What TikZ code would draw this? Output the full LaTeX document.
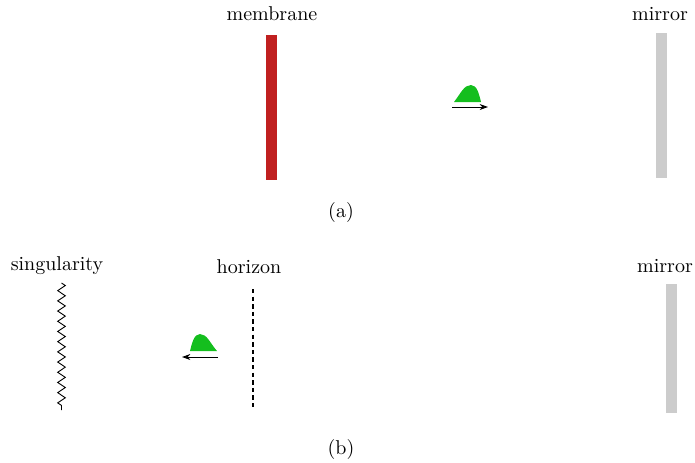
\documentclass[tikz,border=0pt]{standalone}
\usetikzlibrary{arrows.meta,decorations.pathmorphing}
\definecolor{memred}{RGB}{192,32,32}
\definecolor{mirgray}{RGB}{204,204,204}
\definecolor{pulsegreen}{RGB}{20,190,30}
\tikzset{
  lbl/.style={inner sep=0pt,font=\normalsize},
  pulse/.style={fill=pulsegreen,draw=none},
  movearrow/.style={-{Stealth[length=4.2pt,width=3pt]},line width=0.5pt}
}
\begin{document}
\begin{tikzpicture}[x=0.5pt,y=-0.5pt]
\useasboundingbox (0,0) rectangle (695,462);
% (a)
\node[lbl] (memlbl) at (272,14) {membrane};
\fill[memred] (266,35) rectangle (277,180);
\node[lbl] (mirlbla) at (660,14) {mirror};
\fill[mirgray] (656,33) rectangle (667,178);
\fill[pulse] (454,102) .. controls (461,93) and (464,85) .. (471,85)
  .. controls (477,85) and (479,94) .. (481,102) -- cycle;
\coordinate (a1) at (452,107);
\coordinate (a2) at (488,107);
\draw[movearrow] (a1) -- (a2);
\node[lbl] (capa) at (341,212) {(a)};
% (b)
\node[lbl] (singlbl) at (57,266) {singularity};
\coordinate (s1) at (61.5,283);
\coordinate (s2) at (61.5,410);
\draw[decorate,decoration={zigzag,segment length=5.1pt,amplitude=1.9pt},line width=0.45pt] (s1) -- (s2);
\node[lbl] (horlbl) at (249,267) {horizon};
\coordinate (h1) at (253,289);
\coordinate (h2) at (253,410);
\draw[line width=1pt,dash pattern=on 2.2pt off 1.6pt] (h1) -- (h2);
\fill[pulse] (190,351) .. controls (192,343) and (194,334) .. (200,334)
  .. controls (207,334) and (210,343) .. (217,351) -- cycle;
\coordinate (b1) at (218,357);
\coordinate (b2) at (182,357);
\draw[movearrow] (b1) -- (b2);
\node[lbl] (mirlblb) at (665,266) {mirror};
\fill[mirgray] (666,284) rectangle (677,413);
\node[lbl] (capb) at (341,449) {(b)};
\end{tikzpicture}
\end{document}
